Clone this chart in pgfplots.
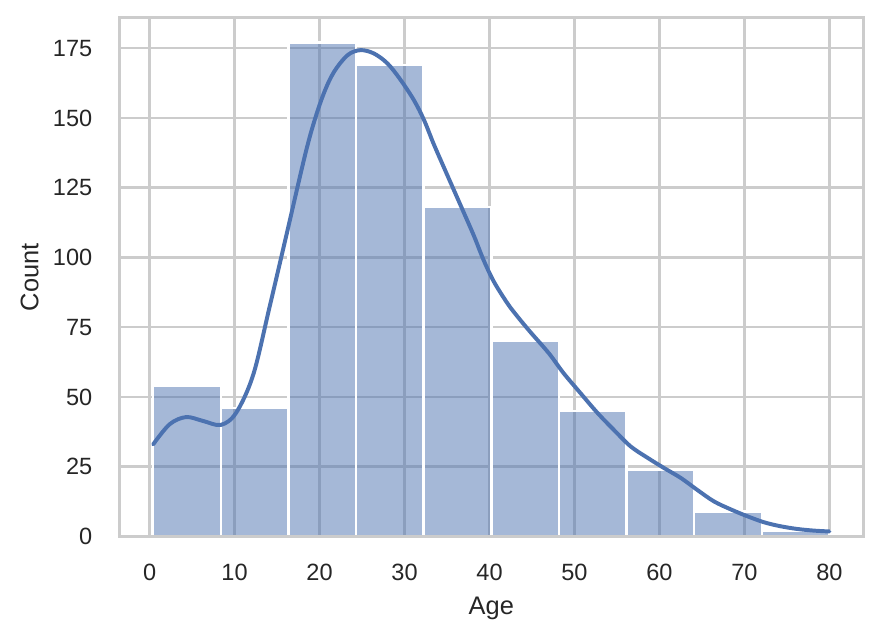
\documentclass[border=0pt]{standalone}
\usepackage{fontspec}
\setmainfont{Liberation Sans}
\usepackage{pgfplots}
\pgfplotsset{compat=1.18}
\definecolor{sb}{HTML}{4C72B0}
\definecolor{gridc}{HTML}{CCCCCC}
\definecolor{txt}{HTML}{262626}
\pgfplotsset{
  /pgfplots/layers/mylayers/.define layer set={
    axis background,axis grid,main,axis ticks,axis lines,
    axis tick labels,axis descriptions,axis foreground
  }{/pgfplots/layers/standard},
}
\begin{document}
\begin{tikzpicture}
\begin{axis}[
  set layers=mylayers,
  width=357.2pt, height=249.0pt, scale only axis,
  xmin=-3.559, xmax=83.979, ymin=0, ymax=185.85,
  xtick={0,10,...,80}, ytick={0,25,...,175},
  grid=major, major grid style={gridc, line width=1.2pt},
  axis line style={gridc, line width=1.5pt},
  major tick length=0pt,
  tick label style={font=\fontsize{11.3}{13}\selectfont, text=txt, inner sep=0pt},
  xticklabel style={yshift=-12.8pt},
  yticklabel style={xshift=-12.8pt},
  /pgf/number format/assume math mode=true,
  label style={font=\fontsize{12.2}{14}\selectfont, text=txt, inner sep=0pt},
  xlabel=Age, ylabel=Count,
  xlabel style={at={(axis description cs:0.5,-0.1157)}, anchor=north},
  ylabel style={at={(axis description cs:-0.1078,0.5)}, anchor=south},
]
\addplot[ybar interval, fill=sb, fill opacity=0.5, draw=white, line width=1.2pt] coordinates {
(0.42,54) (8.378,46) (16.336,177) (24.294,169) (32.252,118) (40.21,70)
(48.168,45) (56.126,24) (64.084,9) (72.042,2) (80,2)};
\addplot[sb, line width=1.9pt, smooth, tension=0.55, line cap=round] coordinates {
(0.42,33) (2.35,40.2) (4.3,42.8) (6.3,41.4) (8.4,40) (10.2,44.4) (12.2,58)
(14.1,82) (16.1,108) (18.2,135.5) (19.3,148) (20.5,158.8) (21.7,166.5)
(23.3,172.5) (24.8,174.3) (26.4,173.1) (28.0,169.5) (29.5,163.8) (31.1,156.4)
(32.3,149.2) (33.4,140.9) (34.6,132.5) (35.8,124.2) (37.0,115.9) (38.2,107.5)
(39.3,99.1) (40.5,91.4) (42.1,83.6) (43.3,78.8) (44.8,73.3) (47.0,65.6)
(48.7,58.6) (50.7,51.4) (52.7,44.3) (54.6,38.3) (56.6,32.3) (58.6,28.2)
(60.5,24.6) (62.5,21.0) (64.4,16.8) (66.4,12.6) (68.4,9.7) (70.3,7.3)
(72.3,5.1) (74.2,3.7) (76.2,2.7) (78.2,2.1) (80,1.8)};
\end{axis}
\pgfresetboundingbox
\useasboundingbox (-57.3pt,-48.6pt) rectangle (366.2pt,257.6pt);
\end{tikzpicture}
\end{document}
